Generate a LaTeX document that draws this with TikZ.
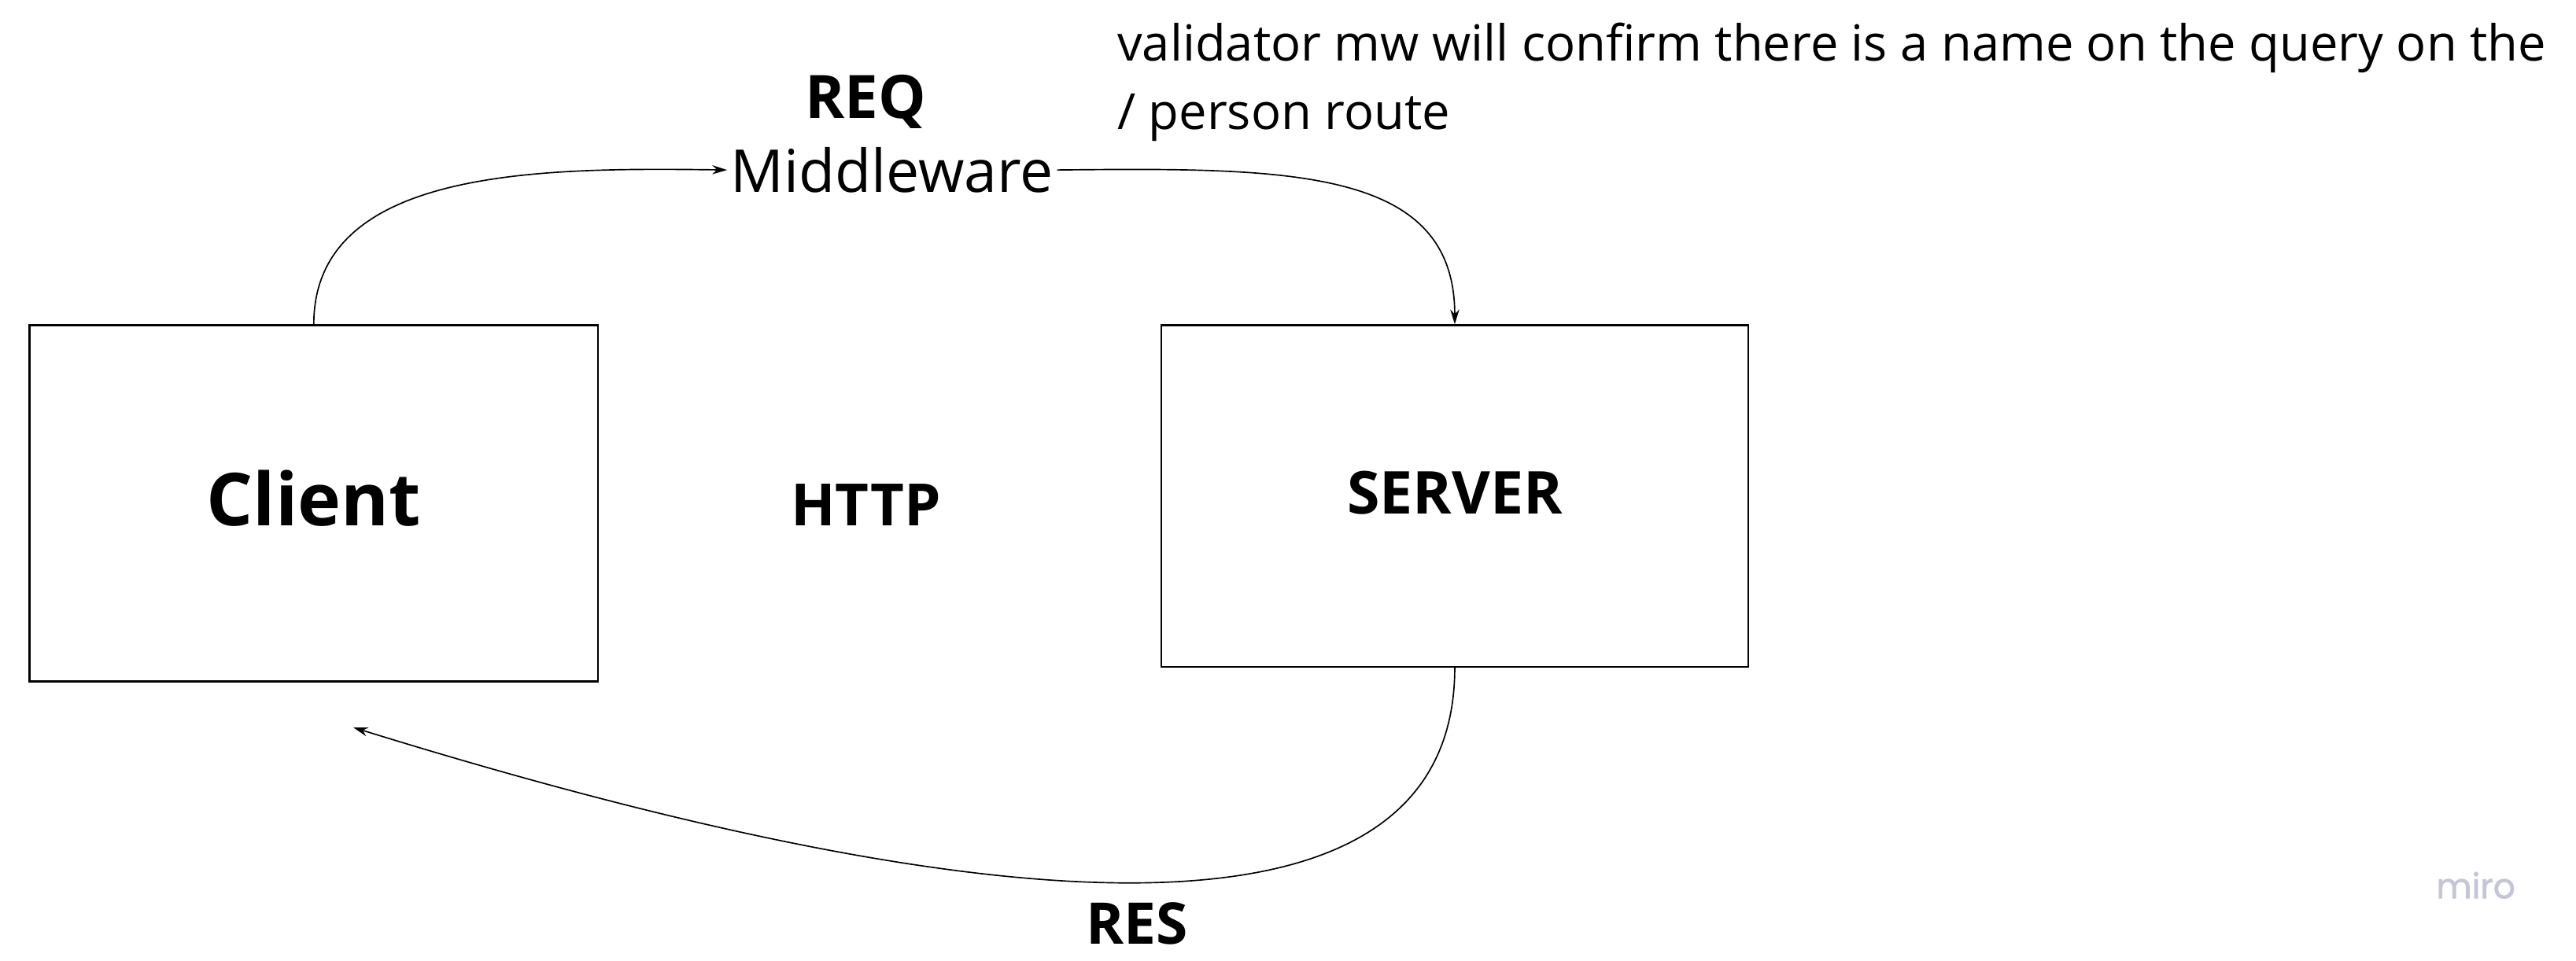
\documentclass[tikz,border=0pt]{standalone}
\usepackage{fontspec}
\setmainfont{Open Sans}
\newfontfamily\logofont[FakeBold=1.6]{Poppins}
\usetikzlibrary{arrows.meta}

\tikzset{
  box/.style={draw, line width=1.1pt, inner sep=0pt},
  link/.style={line width=0.8pt, -{Stealth[length=9pt,width=5.5pt]}},
  txt/.style={inner sep=0pt, anchor=base},
}

\begin{document}
\begin{tikzpicture}[x=1pt,y=1pt,yscale=-1,xscale=1]
\useasboundingbox (0,0) rectangle (1568,584.8);

%Shape: Rectangle
\node [box, minimum width=346pt, minimum height=217pt] (client) at (191,306.5) {};
%Shape: Rectangle
\node [box, minimum width=357pt, minimum height=208pt] (server) at (885.5,302) {};

% Text Node
\node [txt, font=\bfseries\fontsize{44.5}{54}\selectfont] (clientlabel) at (191,320) {Client};
% Text Node
\node [txt, font=\bfseries\fontsize{36}{44}\selectfont] (serverlabel) at (885.5,313) {SERVER};
% Text Node
\node [txt, font=\bfseries\fontsize{35.5}{43}\selectfont] (http) at (527,320) {HTTP};
% Text Node
\node [txt, font=\bfseries\fontsize{36.5}{44}\selectfont] (req) at (527,72) {REQ};
% Text Node
\node [txt, font=\fontsize{36}{43}\selectfont, inner sep=2pt] (mw) at (543,117) {Middleware};
% Text Node
\node [txt, font=\bfseries\fontsize{35}{42}\selectfont] (res) at (692,575) {RES};
% Text Node
\node [txt, anchor=base west, align=left, font=\fontsize{30.3}{42}\selectfont] (note) at (680,79) {validator mw will confirm there is a name on the query on the\\/ person route};
% Text Node
\node [txt, font=\logofont\fontsize{21}{25}\selectfont, text={rgb,255:red,196;green,198;blue,214}] (miro) at (1507,547) {miro};

\coordinate (back) at (215,443);

%Curve Lines
\draw [link] (client.north) .. controls (191,102) and (330,102) .. (mw.west);
%Curve Lines
\draw [link] (mw.east) .. controls (785,102) and (885.5,102) .. (server.north);
%Curve Lines
\draw [link] (server.south) .. controls (885.5,600) and (560,550) .. (back);

\end{tikzpicture}
\end{document}
